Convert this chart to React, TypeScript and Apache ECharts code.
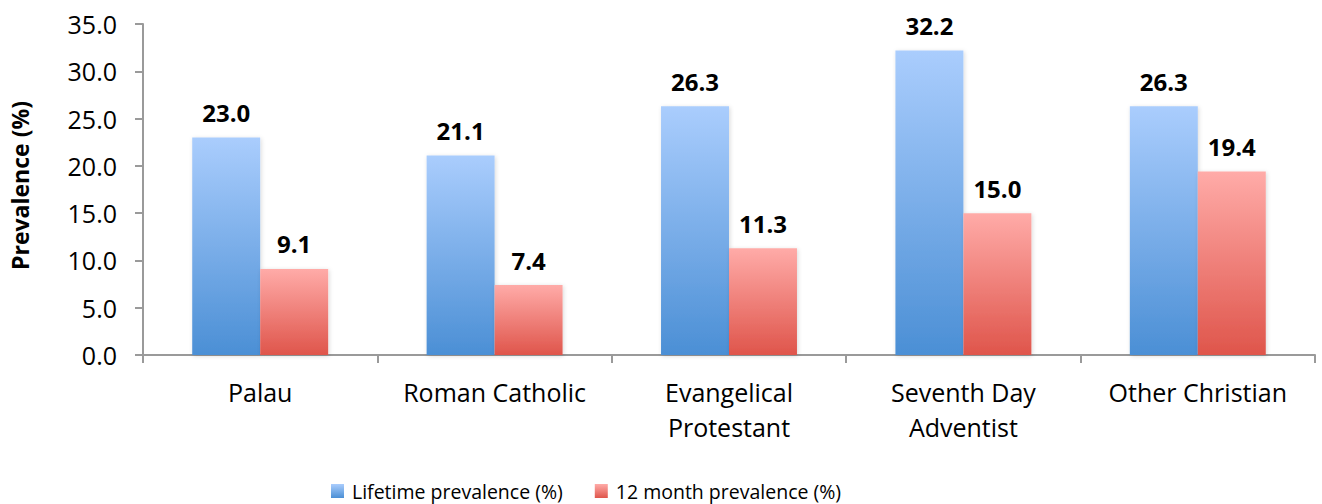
import React, { useEffect, useRef } from "react";
import * as echarts from "echarts";

const categories = ["Palau", "Roman Catholic", "Evangelical\nProtestant", "Seventh Day\nAdventist", "Other Christian"];
const lifetime = [23.0, 21.1, 26.3, 32.2, 26.3];
const twelveMonth = [9.1, 7.4, 11.3, 15.0, 19.4];
const seriesNames = ["Lifetime prevalence (%)", "12 month prevalence (%)"];
const yTicks = { min: 0, max: 35, interval: 5 };

const FONT = "Open Sans";

function grad(top: string, bottom: string) {
  return new echarts.graphic.LinearGradient(0, 0, 0, 1, [
    { offset: 0, color: top },
    { offset: 1, color: bottom },
  ]);
}

export default function App() {
  const ref = useRef<HTMLDivElement>(null);
  useEffect(() => {
    if (!ref.current) return;
    const chart = echarts.init(ref.current, undefined, { renderer: "svg" });
    const label = {
      show: true,
      position: "top",
      distance: 13,
      fontFamily: FONT,
      fontWeight: "bold",
      fontSize: 24,
      color: "#000",
      formatter: (p: any) => Number(p.value).toFixed(1),
    };
    chart.setOption({
      animation: false,
      textStyle: { fontFamily: FONT },
      grid: { left: 143, right: 7, top: 24, bottom: 149, containLabel: false },
      legend: {
        left: 326,
        top: 474,
        itemWidth: 13,
        itemHeight: 14,
        itemGap: 32,
        icon: "rect",
        textStyle: { fontFamily: FONT, fontSize: 19.5, color: "#000", padding: [0, 0, 0, 3], lineHeight: 24 },
        data: seriesNames,
      },
      xAxis: {
        type: "category",
        data: categories,
        axisLine: { lineStyle: { color: "#9a9a9a", width: 2 } },
        axisTick: { show: true, length: 8, lineStyle: { color: "#9a9a9a", width: 2 } },
        axisLabel: { fontFamily: FONT, fontSize: 25, color: "#000", margin: 19, lineHeight: 35, interval: 0 },
      },
      yAxis: {
        type: "value",
        min: yTicks.min,
        max: yTicks.max,
        interval: yTicks.interval,
        name: "Prevalence (%)",
        nameLocation: "middle",
        nameGap: 112,
        nameRotate: 90,
        nameTextStyle: { fontFamily: FONT, fontSize: 23, fontWeight: "bold", color: "#000", padding: [0, 0, 0, 8] },
        axisLine: { show: true, lineStyle: { color: "#9a9a9a", width: 2 } },
        axisTick: { show: true, length: 8, lineStyle: { color: "#9a9a9a", width: 2 } },
        splitLine: { show: false },
        axisLabel: { fontFamily: FONT, fontSize: 25, color: "#000", margin: 26, formatter: (v: number) => v.toFixed(1) },
      },
      series: [
        {
          name: seriesNames[0],
          type: "bar",
          data: lifetime,
          barGap: "0%",
          barCategoryGap: "42%",
          itemStyle: { color: grad("#aacdfd", "#4b8fd5"), shadowBlur: 4, shadowColor: "rgba(0,0,0,0.15)", shadowOffsetX: 1, shadowOffsetY: 1 },
          label,
        },
        {
          name: seriesNames[1],
          type: "bar",
          data: twelveMonth,
          itemStyle: { color: grad("#ffaba8", "#df554b"), shadowBlur: 4, shadowColor: "rgba(0,0,0,0.15)", shadowOffsetX: 1, shadowOffsetY: 1 },
          label,
        },
      ],
    });
    return () => chart.dispose();
  }, []);
  return <div ref={ref} style={{ position: "fixed", left: 0, top: 0, width: 1322, height: 504, background: "#fff" }} />;
}
